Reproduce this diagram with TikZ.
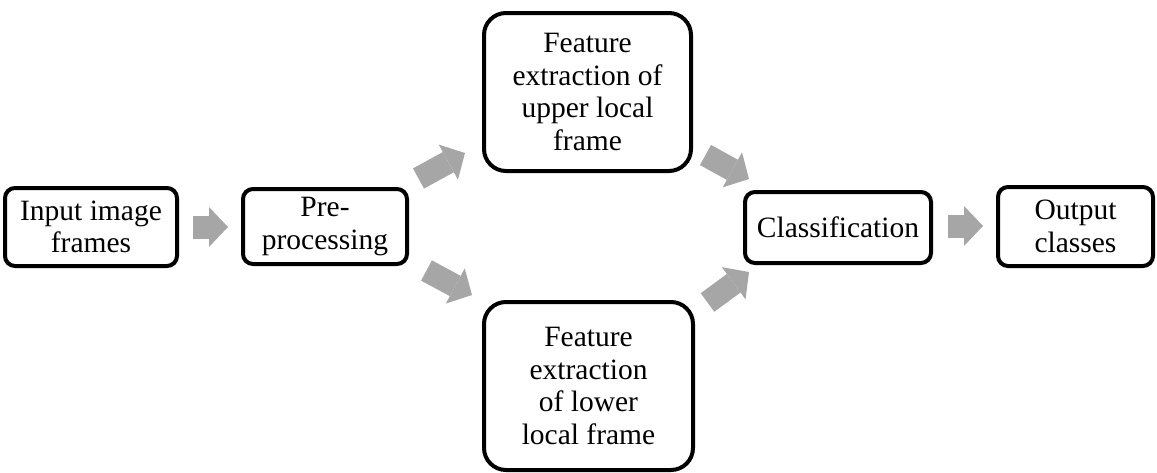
\documentclass[tikz,border=0pt]{standalone}
\usepackage{fontspec}
\setmainfont{Liberation Serif}
\usetikzlibrary{arrows.meta}
\definecolor{arrowgray}{HTML}{A6A6A6}
\tikzset{
  box/.style={draw=black, line width=4pt, fill=white, align=center, inner sep=0pt,
    font=\fontsize{29.5}{32.5}\selectfont},
  smallbox/.style={box, rounded corners=10pt},
  bigbox/.style={box, rounded corners=22pt},
  blockarrow/.style={draw=arrowgray, line width=23pt,
    -{Triangle[length=19pt, width=40pt, line width=0pt, fill=arrowgray]}}
}
\begin{document}
\begin{tikzpicture}[x=1pt, y=-1pt]
  \useasboundingbox (0,0) rectangle (1157,472);

  % process boxes
  \node[smallbox, minimum width=172pt, minimum height=78pt] (input) at (91,227) {Input image\\frames};
  \node[smallbox, minimum width=164pt, minimum height=75pt] (pre) at (325,226.5) {Pre-\\processing};
  \node[bigbox, minimum width=207pt, minimum height=158pt] (upper) at (587.5,92) {Feature\\extraction of\\upper local\\frame};
  \node[bigbox, minimum width=209pt, minimum height=168pt] (lower) at (588.5,386) {Feature\\extraction\\of lower\\local frame};
  \node[smallbox, minimum width=186pt, minimum height=71pt] (cls) at (838,227.5) {Classification};
  \node[smallbox, minimum width=155pt, minimum height=79pt] (out) at (1075.5,226.5) {Output\\classes};

  % end points of the block arrows
  \coordinate (a1s) at (193,227);   \coordinate (a1e) at (228,227);
  \coordinate (a2s) at (418.5,178.5); \coordinate (a2e) at (465,153);
  \coordinate (a3s) at (426.5,270.5); \coordinate (a3e) at (472,295);
  \coordinate (a4s) at (705.5,155);  \coordinate (a4e) at (749,179);
  \coordinate (a5s) at (707.5,302.5); \coordinate (a5e) at (749,272);
  \coordinate (a6s) at (948,226);   \coordinate (a6e) at (983,226);

  % block arrows
  \draw[blockarrow] (a1s) -- (a1e);
  \draw[blockarrow] (a2s) -- (a2e);
  \draw[blockarrow] (a3s) -- (a3e);
  \draw[blockarrow] (a4s) -- (a4e);
  \draw[blockarrow] (a5s) -- (a5e);
  \draw[blockarrow] (a6s) -- (a6e);
\end{tikzpicture}
\end{document}
